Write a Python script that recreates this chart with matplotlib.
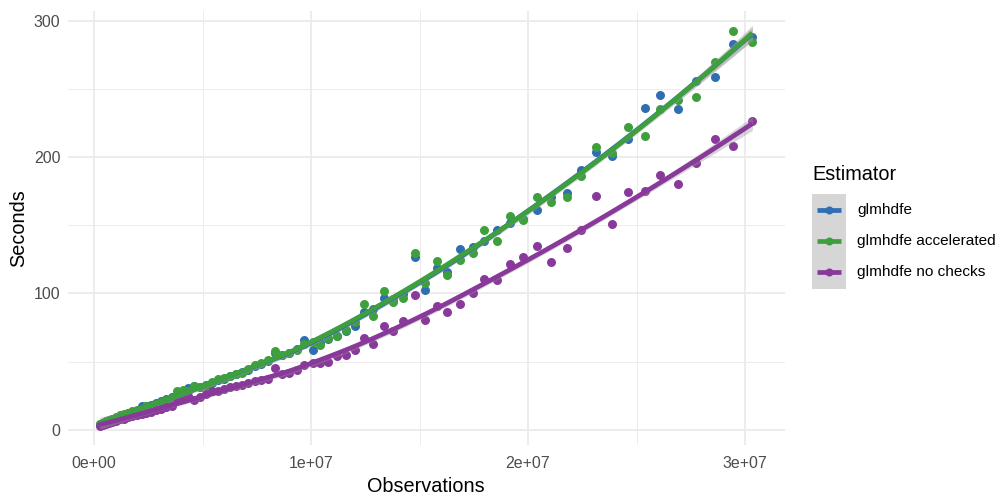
import numpy as np
import matplotlib.pyplot as plt
from matplotlib.lines import Line2D
from matplotlib.patches import Rectangle

plt.rcParams['font.family'] = ['Liberation Sans', 'DejaVu Sans']

# observations (millions) and run time in seconds for each estimator
obs_m = [0.28, 0.41, 0.55, 0.69, 0.85, 1.01, 1.20, 1.38, 1.57, 1.77,
         1.98, 2.19, 2.40, 2.63, 2.86, 3.09, 3.32, 3.57, 3.82, 4.08,
         4.33, 4.61, 4.88, 5.16, 5.44, 5.71, 5.99, 6.27, 6.54, 6.82,
         7.10, 7.42, 7.70, 8.02, 8.34, 8.66, 8.99, 9.35, 9.69, 10.08,
         10.41, 10.80, 11.18, 11.60, 12.03, 12.44, 12.87, 13.36, 13.79, 14.25,
         14.79, 15.25, 15.79, 16.28, 16.87, 17.45, 17.95, 18.56, 19.17, 19.78,
         20.40, 21.04, 21.78, 22.44, 23.12, 23.88, 24.59, 25.37, 26.08, 26.91,
         27.76, 28.60, 29.46, 30.34]

sec_glmhdfe = [4.0, 5.0, 6.0, 6.8, 7.8, 8.7, 9.8, 11.0, 12.0, 13.0,
               14.0, 17.0, 17.5, 18.0, 19.5, 21.0, 22.5, 24.0, 25.5, 27.0,
               30.5, 32.0, 31.5, 33.0, 34.5, 36.5, 37.5, 39.0, 41.0, 42.5,
               44.0, 47.0, 48.5, 50.5, 56.5, 54.5, 56.5, 59.0, 66.0, 58.6,
               63.5, 66.5, 68.5, 72.3, 76.0, 86.2, 88.2, 96.5, 96.1, 99.3,
               126.7, 102.2, 118.8, 116.0, 132.4, 134.0, 138.1, 146.6, 151.3, 154.4,
               161.0, 170.8, 173.8, 190.2, 204.0, 200.7, 213.0, 235.8, 245.8, 235.5,
               256.1, 258.8, 282.9, 288.5]

sec_accel = [4.0, 5.2, 6.2, 7.0, 8.0, 9.2, 10.5, 11.5, 12.0, 13.5,
             14.5, 15.5, 17.0, 17.5, 19.0, 20.5, 22.0, 23.5, 28.0, 29.0,
             28.5, 32.0, 31.0, 33.0, 35.0, 37.0, 38.0, 39.5, 41.0, 41.5,
             44.5, 47.5, 49.0, 51.0, 57.5, 55.0, 56.5, 58.5, 63.0, 64.2,
             62.3, 67.4, 68.4, 72.8, 78.9, 91.9, 83.1, 101.5, 93.6, 96.8,
             129.9, 107.4, 123.5, 113.8, 124.3, 129.9, 146.7, 138.8, 156.6, 153.7,
             170.4, 167.1, 171.1, 185.8, 207.6, 203.3, 222.4, 215.7, 235.5, 241.9,
             244.1, 269.9, 292.9, 284.8]

sec_nochecks = [3.0, 3.5, 4.5, 5.0, 5.8, 6.5, 7.5, 8.0, 9.0, 10.0,
                10.8, 11.5, 12.5, 13.0, 14.5, 15.5, 16.5, 17.5, 23.5, 22.5,
                25.0, 21.5, 24.0, 26.0, 28.0, 28.5, 30.0, 31.0, 32.0, 32.5,
                34.0, 35.5, 36.5, 37.0, 45.0, 40.5, 41.5, 44.0, 47.1, 48.8,
                48.8, 50.0, 54.4, 55.1, 58.1, 67.4, 62.5, 76.0, 72.3, 79.6,
                99.0, 80.7, 90.4, 86.0, 92.4, 100.5, 110.3, 109.9, 121.8, 127.0,
                134.8, 122.8, 133.3, 146.8, 171.3, 150.7, 174.5, 175.0, 186.8, 180.1,
                195.6, 213.0, 208.3, 226.5]

labels = ['glmhdfe', 'glmhdfe accelerated', 'glmhdfe no checks']
colors = ['#2F6EB1', '#3DA03D', '#88399A']
series = [sec_glmhdfe, sec_accel, sec_nochecks]


def loess(x, y, xs, span=0.75):
    # local quadratic fit with tricube weights, plus pointwise standard errors
    n = len(x)
    q = int(np.floor(n * span))

    def weights_row(x0):
        d = np.abs(x - x0)
        h = np.sort(d)[q - 1]
        w = np.clip(1 - (d / h) ** 3, 0, None) ** 3
        X = np.column_stack([np.ones(n), x - x0, (x - x0) ** 2])
        XtW = X.T * w
        return np.linalg.solve(XtW @ X, XtW)[0]

    L = np.array([weights_row(x0) for x0 in x])
    resid = y - L @ y
    sigma = np.sqrt(np.sum(resid ** 2) / (n - np.trace(L)))
    rows = np.array([weights_row(x0) for x0 in xs])
    fit = rows @ y
    se = sigma * np.sqrt(np.sum(rows ** 2, axis=1))
    return fit, se


x = np.array(obs_m)
xs = np.linspace(x.min(), x.max(), 80)

fig = plt.figure(figsize=(10.01, 4.99), dpi=100)
W, H = 1001, 499
ax = fig.add_axes([67.5 / W, 1 - 445.3 / H, (785 - 67.5) / W, (445.3 - 10.8) / H])

for y_vals, c in zip(series, colors):
    ax.scatter(x * 1e6, y_vals, s=42, color=c, linewidths=0, zorder=3)

for y_vals, c in zip(series, colors):
    fit, se = loess(x, np.array(y_vals), xs)
    ax.fill_between(xs * 1e6, fit - 1.99 * se, fit + 1.99 * se,
                    color='#999999', alpha=0.4, linewidth=0, zorder=4)
    ax.plot(xs * 1e6, fit, color=c, lw=3.4, solid_capstyle='butt', zorder=5)

xr = x.max() - x.min()
ax.set_xlim((x.min() - 0.05 * xr) * 1e6, (x.max() + 0.05 * xr) * 1e6)
ax.set_ylim(-11.5, 307.4)

ax.set_xticks([0, 1e7, 2e7, 3e7])
ax.set_xticklabels(['0e+00', '1e+07', '2e+07', '3e+07'])
ax.set_xticks([5e6, 1.5e7, 2.5e7], minor=True)
ax.set_yticks([0, 100, 200, 300])
ax.set_yticks([50, 150, 250], minor=True)
ax.grid(which='major', color='#EBEBEB', lw=1.3)
ax.grid(which='minor', color='#EBEBEB', lw=0.65)
ax.set_axisbelow(True)
for s in ax.spines.values():
    s.set_visible(False)
ax.tick_params(which='both', length=0, labelsize=11.5, labelcolor='#4D4D4D')
ax.tick_params(axis='x', pad=8)
ax.tick_params(axis='y', pad=5)

ax.set_xlabel('Observations', fontsize=14.3, labelpad=4)
ax.set_ylabel('Seconds', fontsize=14.3, labelpad=4)

# legend drawn by hand so the key column gets the grey band background
fig.text(812 / W, 1 - 175 / H, 'Estimator', fontsize=14.3, va='center', ha='left')
fig.patches.append(Rectangle((812 / W, 1 - 289 / H), 34 / W, 95 / H,
                             transform=fig.transFigure, facecolor='#D6D6D6',
                             edgecolor='none'))
for i, (lab, c) in enumerate(zip(labels, colors)):
    yk = 1 - (210 + 31 * i) / H
    fig.lines.append(Line2D([817 / W, 841 / W], [yk, yk], transform=fig.transFigure,
                            color=c, lw=3.4, solid_capstyle='butt'))
    fig.lines.append(Line2D([829 / W], [yk], transform=fig.transFigure, color=c,
                            marker='o', markersize=5.8, markeredgewidth=0))
    fig.text(857 / W, yk, lab, fontsize=11.1, va='center', ha='left')

fig.savefig('out.png', dpi=100)
